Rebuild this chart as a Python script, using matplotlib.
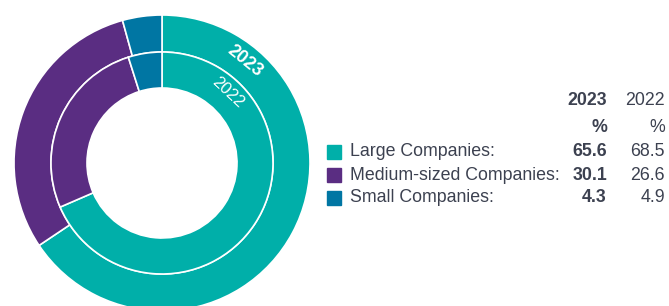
import matplotlib.pyplot as plt
import numpy as np

plt.rcParams["font.family"] = ["Liberation Sans", "DejaVu Sans"]

categories = ["Large Companies:", "Medium-sized Companies:", "Small Companies:"]
share_2023 = [65.6, 30.1, 4.3]
share_2022 = [68.5, 26.6, 4.9]
colors = ["#00AFA9", "#5A2D82", "#0076A3"]
text_col = "#3C4150"

W, H = 669, 306
fig = plt.figure(figsize=(W / 100, H / 100), dpi=100)

# donut axes, placed in pixel coords (center 162,143 from bottom, radius 148)
cx, cy, R = 162, 143, 148
ax = fig.add_axes([(cx - R) / W, (cy - R) / H, 2 * R / W, 2 * R / H])
ax.set_aspect("equal")
ax.axis("off")

ax.pie(share_2023, colors=colors, radius=1.0, startangle=90, counterclock=False,
       wedgeprops=dict(width=1 - 111 / 148, edgecolor="white", linewidth=1.2))
ax.pie(share_2022, colors=colors, radius=111 / 148, startangle=90, counterclock=False,
       wedgeprops=dict(width=(111 - 75) / 148, edgecolor="white", linewidth=1.2))
ax.set_xlim(-1, 1)
ax.set_ylim(-1, 1)

# year labels along the rings
a = np.deg2rad(51)
r = 131 / 148
ax.text(r * np.cos(a), r * np.sin(a), "2023", color="white", fontsize=13, fontweight="bold",
        rotation=-39, ha="center", va="center", rotation_mode="anchor")
a = np.deg2rad(47)
r = 96 / 148
ax.text(r * np.cos(a), r * np.sin(a), "2022", color="white", fontsize=12,
        rotation=-43, ha="center", va="center", rotation_mode="anchor")

# legend table
def fy(y):
    return 1 - y / H

fs = 12.8
fig.text(607 / W, fy(101), "2023", ha="right", va="center", fontsize=fs, fontweight="bold", color=text_col)
fig.text(665 / W, fy(101), "2022", ha="right", va="center", fontsize=fs, color=text_col)
fig.text(607 / W, fy(127), "%", ha="right", va="center", fontsize=fs, fontweight="bold", color=text_col)
fig.text(665 / W, fy(127), "%", ha="right", va="center", fontsize=fs, color=text_col)

row_y = [152, 175, 198]
for name, v23, v22, c, y in zip(categories, share_2023, share_2022, colors, row_y):
    fig.patches.append(plt.Rectangle((327 / W, fy(y + 7)), 14 / W, 14 / H,
                                     transform=fig.transFigure, color=c, figure=fig))
    fig.text(350 / W, fy(y), name, ha="left", va="center", fontsize=fs, color=text_col)
    fig.text(607 / W, fy(y), f"{v23:.1f}", ha="right", va="center", fontsize=fs,
             fontweight="bold", color=text_col)
    fig.text(665 / W, fy(y), f"{v22:.1f}", ha="right", va="center", fontsize=fs, color=text_col)

fig.savefig("out.png", dpi=100)
